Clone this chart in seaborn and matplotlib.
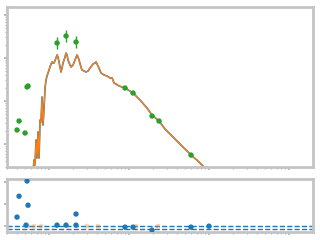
import numpy as np
import pandas as pd
import matplotlib
matplotlib.use("Agg")
import matplotlib.pyplot as plt
import seaborn as sns

spec_logx = [-1.2, -1.1875, -1.175, -1.1625, -1.15, -1.1375, -1.125, -1.1125, -1.1, -1.0875,
             -1.075, -1.0625, -1.05, -1.0375, -1.025, -1.0125, -0.9875, -0.975, -0.9625, -0.95,
             -0.9375, -0.9125, -0.9, -0.8875, -0.875, -0.8625, -0.85, -0.8375, -0.825, -0.8,
             -0.7875, -0.775, -0.7625, -0.7375, -0.725, -0.7125, -0.7, -0.675, -0.65, -0.6375,
             -0.625, -0.6, -0.5875, -0.5625, -0.5375, -0.5125, -0.4875, -0.45, -0.425, -0.4125,
             -0.4, -0.375, -0.35, -0.3125, -0.275, -0.2375, -0.2125, -0.2, -0.1875, -0.1625,
             -0.125, -0.0875, -0.05, 0.05, 0.1375, 0.225, 0.2875, 0.375, 0.45, 0.575,
             0.7, 0.775, 0.8625, 0.95, 1.0375]
spec_logy = [-14.651, -14.372, -14.488, -13.907, -14.326, -13.721, -14.326, -13.442, -13.488, -12.907,
             -13.558, -13.163, -12.698, -12.512, -12.419, -12.349, -12.209, -12.140, -12.093, -12.116,
             -12.116, -12.0, -11.930, -11.977, -12.093, -12.209, -12.326, -12.233, -12.116, -11.977,
             -11.884, -11.930, -12.047, -12.163, -12.209, -12.186, -12.163, -12.047, -11.930, -11.977,
             -12.047, -12.209, -12.279, -12.302, -12.326, -12.302, -12.233, -12.140, -12.116, -12.093,
             -12.140, -12.233, -12.349, -12.395, -12.419, -12.465, -12.465, -12.512, -12.581, -12.605,
             -12.651, -12.674, -12.698, -12.814, -12.977, -13.163, -13.326, -13.465, -13.651, -13.884,
             -14.116, -14.256, -14.395, -14.558, -14.721]

phot_logx = [-1.4, -1.375, -1.3, -1.275, -1.2625, -0.9, -0.7875, -0.6625, -0.05, 0.05, 0.2875, 0.375, 0.775]
phot_logy = [-13.674, -13.465, -13.744, -12.674, -12.651, -11.651, -11.488, -11.628, -12.698, -12.814,
             -13.349, -13.465, -14.256]
phot_logyerr = [0.03, 0.03, 0.03, 0.03, 0.03, 0.13, 0.13, 0.13, 0.03, 0.03, 0.03, 0.03, 0.04]

res_logx = [-1.4, -1.375, -1.2875, -1.275, -1.2625, -0.9, -0.7875, -0.6625, -0.6625, -0.05, 0.05,
            0.2875, 0.775, 1.0]
res_val = [4.1, 13.6, 0.45, 20.5, 9.5, 0.45, 0.45, 5.5, 0.45, -0.45, -0.45, -1.8, -0.45, 0.0]

res2_logx = [-1.2625, -1.1875, -1.1, -0.525, -0.3875, 0.0875, 0.3625]
res2_val = [0.0, 0.0, 0.0, 0.0, 0.0, 0.0, 0.0]

hlines = [0.15, -1.2]

# ---- figure ----
sns.set_style("white")
fig = plt.figure(figsize=(3.2, 2.4), dpi=100)
ax1 = fig.add_axes([0.022, 0.304, 0.956, 0.667])
ax2 = fig.add_axes([0.022, 0.033, 0.956, 0.221], sharex=ax1)

blue, orange, green = "#1f77b4", "#ff7f0e", "#2ca02c"

spec = pd.DataFrame({"x": 10 ** np.array(spec_logx), "y": 10 ** np.array(spec_logy)})
phot = pd.DataFrame({"x": 10 ** np.array(phot_logx), "y": 10 ** np.array(phot_logy)})
res = pd.DataFrame({"x": 10 ** np.array(res_logx), "y": res_val})
res2 = pd.DataFrame({"x": 10 ** np.array(res2_logx), "y": res2_val})

ax1.set_xscale("log")
ax1.set_yscale("log")

sns.lineplot(data=spec, x="x", y="y", ax=ax1, color=blue, lw=1.2, sort=False, estimator=None)
sns.lineplot(data=spec, x="x", y="y", ax=ax1, color=orange, lw=0.9, sort=False, estimator=None)

le = np.array(phot_logyerr)
yv = phot["y"].values
yerr = [yv - yv * 10 ** (-le), yv * 10 ** le - yv]
xerr = phot["x"].values * 0.06
ax1.errorbar(phot["x"], phot["y"], yerr=yerr, xerr=xerr, fmt="none", ecolor=green, elinewidth=1, zorder=3)
sns.scatterplot(data=phot, x="x", y="y", ax=ax1, color=green, s=15, edgecolor="none", zorder=4)

ax1.set_xlim(10 ** -1.525, 10 ** 2.3)
ax1.set_ylim(10 ** -14.535, 10 ** -10.814)

for h in hlines:
    ax2.axhline(h, color=blue, ls="--", lw=1)
sns.scatterplot(data=res2, x="x", y="y", ax=ax2, color=orange, alpha=0.35, s=12, edgecolor="none", zorder=3)
sns.scatterplot(data=res, x="x", y="y", ax=ax2, color=blue, s=15, edgecolor="none", zorder=4)
ax2.set_ylim(-2.7, 21.4)
ax2.set_yticks([0, 10, 20])

for ax in (ax1, ax2):
    ax.set_xlabel("")
    ax.set_ylabel("")
    for s in ax.spines.values():
        s.set_color("#c4c4c4")
        s.set_linewidth(2)
    ax.tick_params(which="both", left=True, bottom=True, labelleft=False, labelbottom=False,
                   colors="#b0b0b0", direction="out")
    ax.tick_params(which="major", length=2.5, width=1.2)
    ax.tick_params(which="minor", length=1.5, width=0.8)
    if ax.get_legend():
        ax.get_legend().remove()

fig.savefig("out.png", dpi=100)
